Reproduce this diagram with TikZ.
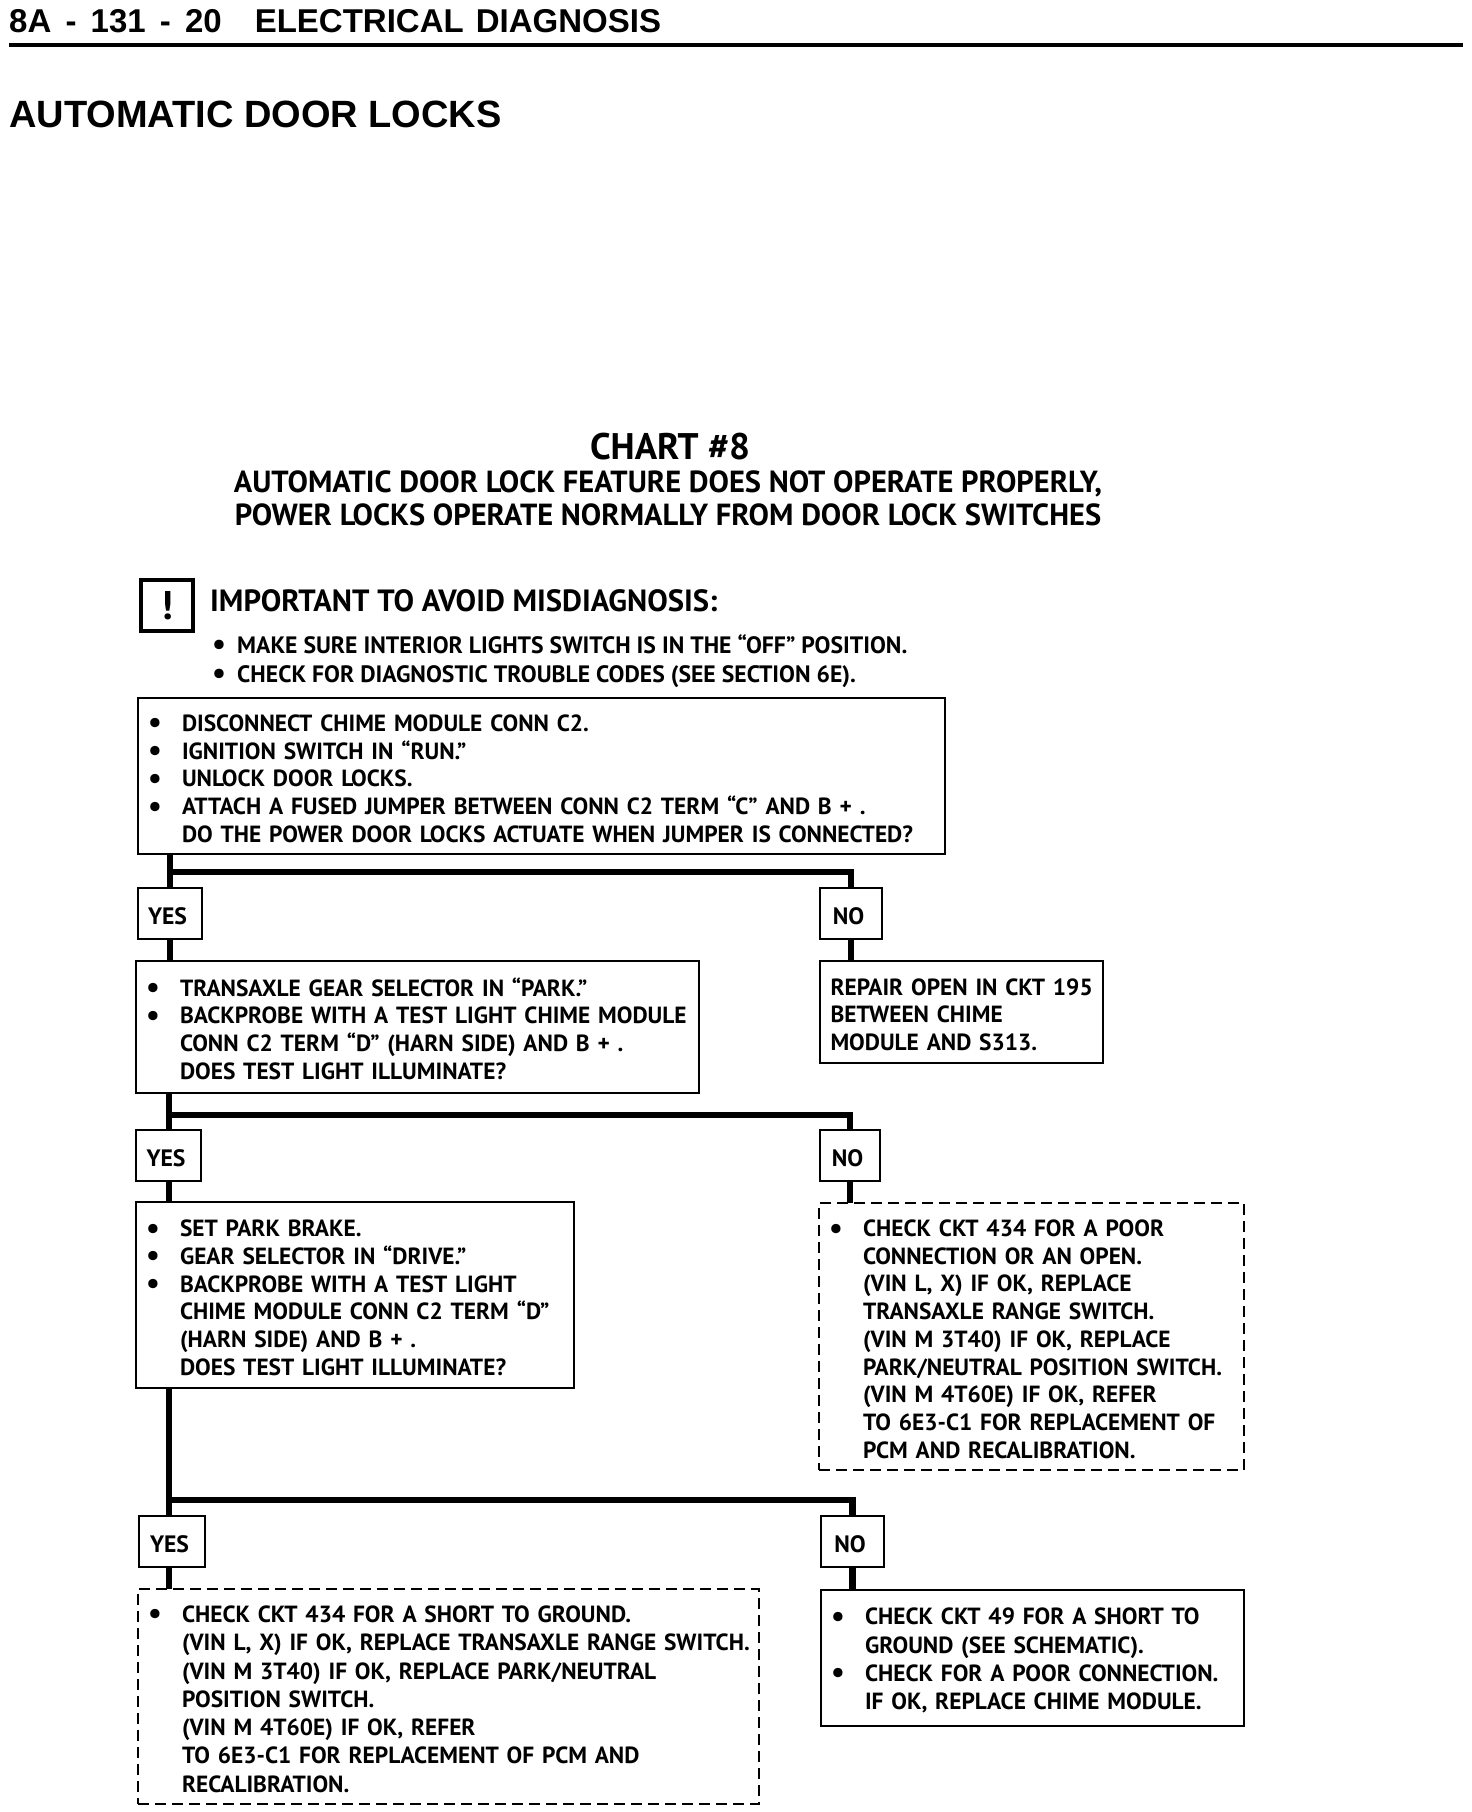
\documentclass[tikz,border=0pt]{standalone}
\usepackage{fontspec}
\setmainfont{PT Sans}
\newfontfamily\headfont{Liberation Sans}
\usetikzlibrary{positioning,calc}
\newcommand{\dotmark}{\raisebox{-1.5pt}{\scalebox{1.3}{\textbullet}}}
\newcommand{\bul}{\makebox[44pt][l]{\hspace*{10pt}\dotmark}}
\newcommand{\warnbul}{\makebox[25pt][l]{\dotmark}}
\newcommand{\nob}{\hspace*{44pt}}
\newcommand{\inset}{\hspace*{10.5pt}}

\begin{document}
\begin{tikzpicture}[
  x=1pt, y=-1pt,
  panel/.style={draw, line width=2.5pt, inner sep=0pt, outer sep=0pt, anchor=north west,
                align=left, font=\fontsize{23.4}{27.7}\selectfont\bfseries,
                execute at begin node={\rule{0pt}{22pt}}},
  dashpanel/.style={panel, dashed, dash pattern=on 11pt off 6pt},
  widelines/.style={font=\fontsize{23.4}{28.3}\selectfont\bfseries},
  answer/.style={draw, line width=2.5pt, inner sep=0pt, outer sep=0pt, anchor=north west,
                 minimum height=51pt, font=\fontsize{23.7}{26}\selectfont\bfseries,
                 execute at begin node={\rule{0pt}{22pt}},
                 execute at end node={\hspace{5pt}}},
  link/.style={line width=6.5pt}
]
\useasboundingbox (0,0) rectangle (1472,1812);
% page heading
\node[anchor=west, inner sep=0pt, font=\headfont\fontsize{33}{38}\selectfont\bfseries] (runhead) at (9,21)
  {8A\hspace{5pt} - \hspace{5pt}131\hspace{5pt} - \hspace{5pt}20\hspace{33pt}ELECTRICAL\hspace{3pt} DIAGNOSIS};
\coordinate (ruleL) at (9,45);
\coordinate (ruleR) at (1463,45);
\draw[line width=4pt] (ruleL) -- (ruleR);
\node[anchor=west, inner sep=0pt, font=\headfont\fontsize{38}{44}\selectfont\bfseries] (pagetitle) at (9,114)
  {AUTOMATIC DOOR LOCKS};
% chart title
\node[inner sep=0pt, font=\fontsize{37}{40}\selectfont\bfseries] (charthead) at (670,447) {CHART \#8};
\node[inner sep=0pt, align=center, font=\fontsize{30.5}{33.5}\selectfont\bfseries] (chartsub) at (668,498.5)
  {AUTOMATIC DOOR LOCK FEATURE DOES NOT OPERATE PROPERLY,\\
   POWER LOCKS OPERATE NORMALLY FROM DOOR LOCK SWITCHES};
% notice
\node[draw, line width=4pt, outer sep=0pt, anchor=north west, minimum width=52pt, minimum height=51pt, inner sep=0pt,
      font=\fontsize{40}{40}\selectfont\bfseries] (warnicon) at (141,580) {!};
\node[anchor=west, inner sep=0pt, font=\fontsize{30.7}{34}\selectfont\bfseries] (warnhead) at (210,601)
  {IMPORTANT TO AVOID MISDIAGNOSIS:};
\node[anchor=north west, inner sep=0pt, align=left, font=\fontsize{23.7}{29}\selectfont\bfseries] (warnlist) at (212,634)
  {\warnbul MAKE SURE INTERIOR LIGHTS SWITCH IS IN THE ``OFF'' POSITION.\\
   \warnbul CHECK FOR DIAGNOSTIC TROUBLE CODES (SEE SECTION 6E).};
% steps
\node[panel, text width=807pt, minimum height=156pt] (disc) at (138,698)
  {\bul DISCONNECT CHIME MODULE CONN C2.\\
   \bul IGNITION SWITCH IN ``RUN.''\\
   \bul UNLOCK DOOR LOCKS.\\
   \bul ATTACH A FUSED JUMPER BETWEEN CONN C2 TERM ``C'' AND B + .\\
   \nob DO THE POWER DOOR LOCKS ACTUATE WHEN JUMPER IS CONNECTED?};
\node[answer, minimum width=64pt] (yes1) at (138,888) {YES};
\node[answer, minimum width=62pt] (no1) at (820,888) {NO};
\node[panel, text width=563pt, minimum height=132pt] (park) at (136,961)
  {\bul TRANSAXLE GEAR SELECTOR IN ``PARK.''\\
   \bul BACKPROBE WITH A TEST LIGHT CHIME MODULE\\
   \nob CONN C2 TERM ``D'' (HARN SIDE) AND B + .\\
   \nob DOES TEST LIGHT ILLUMINATE?};
\node[panel, text width=283pt, minimum height=102pt] (repair) at (820,961)
  {\inset REPAIR OPEN IN CKT 195\\
   \inset BETWEEN CHIME\\
   \inset MODULE AND S313.};
\node[answer, minimum width=65pt] (yes2) at (136,1130) {YES};
\node[answer, minimum width=60pt] (no2) at (820,1130) {NO};
\node[panel, text width=438pt, minimum height=186pt] (drive) at (136,1202)
  {\bul SET PARK BRAKE.\\
   \bul GEAR SELECTOR IN ``DRIVE.''\\
   \bul BACKPROBE WITH A TEST LIGHT\\
   \nob CHIME MODULE CONN C2 TERM ``D''\\
   \nob (HARN SIDE) AND B + .\\
   \nob DOES TEST LIGHT ILLUMINATE?};
\node[dashpanel, text width=425pt, minimum height=267pt] (range) at (819,1203)
  {\bul CHECK CKT 434 FOR A POOR\\
   \nob CONNECTION OR AN OPEN.\\
   \nob (VIN L, X) IF OK, REPLACE\\
   \nob TRANSAXLE RANGE SWITCH.\\
   \nob (VIN M 3T40) IF OK, REPLACE\\
   \nob PARK/NEUTRAL POSITION SWITCH.\\
   \nob (VIN M 4T60E) IF OK, REFER\\
   \nob TO 6E3-C1 FOR REPLACEMENT OF\\
   \nob PCM AND RECALIBRATION.};
\node[answer, minimum width=66pt] (yes3) at (139,1516) {YES};
\node[answer, minimum width=63pt] (no3) at (821,1516) {NO};
\node[dashpanel, widelines, text width=621pt, minimum height=215pt] (short) at (138,1589)
  {\bul CHECK CKT 434 FOR A SHORT TO GROUND.\\
   \nob (VIN L, X) IF OK, REPLACE TRANSAXLE RANGE SWITCH.\\
   \nob (VIN M 3T40) IF OK, REPLACE PARK/NEUTRAL\\
   \nob POSITION SWITCH.\\
   \nob (VIN M 4T60E) IF OK, REFER\\
   \nob TO 6E3-C1 FOR REPLACEMENT OF PCM AND\\
   \nob RECALIBRATION.};
\node[panel, widelines, text width=423pt, minimum height=136pt] (chime) at (821,1590)
  {\bul CHECK CKT 49 FOR A SHORT TO\\
   \nob GROUND (SEE SCHEMATIC).\\
   \bul CHECK FOR A POOR CONNECTION.\\
   \nob IF OK, REPLACE CHIME MODULE.};
% connectors
\coordinate (bar1) at (170,872);
\coordinate (bar2) at (169,1115);
\coordinate (bar3) at (169,1500);
\draw[link] (bar1 |- disc.south) -- (bar1) -- (bar1 -| no1.north) -- (no1.north);
\draw[link] (bar1) -- (bar1 |- yes1.north);
\draw[link] (bar1 |- yes1.south) -- (bar1 |- park.north);
\draw[link] (no1.south) -- (no1.south |- repair.north);
\draw[link] (bar2 |- park.south) -- (bar2) -- (bar2 -| no2.north) -- (no2.north);
\draw[link] (bar2) -- (bar2 |- yes2.north);
\draw[link] (bar2 |- yes2.south) -- (bar2 |- drive.north);
\draw[link] (no2.south) -- (no2.south |- range.north);
\draw[link] (bar3 |- drive.south) -- (bar3) -- (bar3 -| no3.north) -- (no3.north);
\draw[link] (bar3) -- (bar3 |- yes3.north);
\draw[link] (bar3 |- yes3.south) -- (bar3 |- short.north);
\draw[link] (no3.south) -- (no3.south |- chime.north);
\end{tikzpicture}
\end{document}
